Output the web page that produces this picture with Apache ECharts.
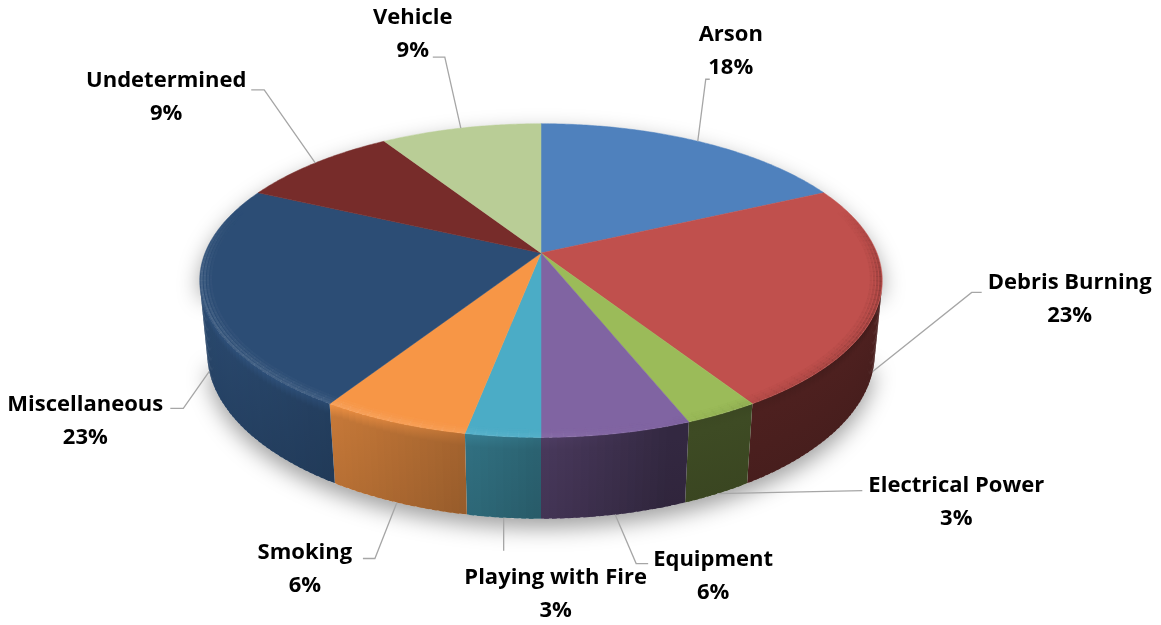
<!DOCTYPE html>
<html>
<head>
<meta charset="utf-8">
<script src="https://cdn.jsdelivr.net/npm/echarts@6/dist/echarts.min.js"></script>
<style>
  html, body { margin: 0; padding: 0; background: #ffffff; }
  #chart { width: 1161px; height: 625px; }
</style>
</head>
<body>
<div id="chart"></div>
<script>
// Causes of wildfires, share of total (%)
const categories = ['Arson', 'Debris Burning', 'Electrical Power', 'Equipment', 'Playing with Fire',
                    'Smoking', 'Miscellaneous', 'Undetermined', 'Vehicle'];
const percents = [18, 23, 3, 6, 3, 6, 23, 9, 9];
const sliceColors = ['#4F81BD', '#C0504D', '#9BBB59', '#8064A2', '#4BACC6',
                     '#F79646', '#2C4D75', '#772C2A', '#B9CD96'];

// Label placement: block centre and leader-line elbow, as offsets from each slice's rim point
const labelLayout = [
  { box: [33, -90],   elbow: [8, -62],   stub: 4 },
  { box: [197, -72],  elbow: [99, -79],  stub: 10 },
  { box: [239, 9],    elbow: [145, -3],  stub: 0 },
  { box: [98, 62],    elbow: [21, 49],   stub: 12 },
  { box: [52, 77],    elbow: [0, 33],    stub: 0 },
  { box: [-92, 67],   elbow: [-22, 56],  stub: -12 },
  { box: [-124, 50],  elbow: [-26, 37],  stub: -13 },
  { box: [-149, -66], elbow: [-51, -73], stub: -13 },
  { box: [-48, -94],  elbow: [-16, -71], stub: -12 }
];

// Perspective camera for the tilted disc (unit radius, thickness in radius units)
const view = { cx: 541, cy: 253, F: 1705, D: 5.075, tilt: 26.9 * Math.PI / 180, depth: 0.243 };
const cosT = Math.cos(view.tilt), sinT = Math.sin(view.tilt);

function project(theta, r, z) {
  const X = r * Math.sin(theta), Y = r * Math.cos(theta), Z = z;
  const d = view.D + Y * cosT - Z * sinT;
  const u = Y * sinT + Z * cosT;
  return [view.cx + view.F * X / d, view.cy - view.F * u / d];
}

// Angular range of the outer wall that faces the camera
const wallHalf = Math.acos(-1 / (view.D * cosT));
const wallFrom = wallHalf, wallTo = 2 * Math.PI - wallHalf;

const total = percents.reduce((a, b) => a + b, 0);
const starts = [];
percents.reduce((acc, v, i) => { starts[i] = acc; return acc + v; }, 0);
const angleOf = v => v / total * 2 * Math.PI;

function rgb(hex) {
  const n = parseInt(hex.slice(1), 16);
  return [(n >> 16) & 255, (n >> 8) & 255, n & 255];
}
function toCss(c) { return 'rgb(' + c.map(v => Math.max(0, Math.min(255, Math.round(v)))).join(',') + ')'; }
function scaleColor(hex, k) { return toCss(rgb(hex).map(v => v * k)); }
function mixColor(hex, t, target) {
  const tg = target || [255, 255, 255];
  return toCss(rgb(hex).map((v, i) => v + (tg[i] - v) * t));
}

// Light from the left-front
const light = (() => { const x = -0.95, y = -0.31, l = Math.hypot(x, y); return [x / l, y / l]; })();
const facing = th => Math.sin(th) * light[0] + Math.cos(th) * light[1];

function arcPoints(a0, a1, r, z, step) {
  const n = Math.max(2, Math.ceil((a1 - a0) / step));
  const pts = [];
  for (let k = 0; k <= n; k++) pts.push(project(a0 + (a1 - a0) * k / n, r, z));
  return pts;
}

const seriesData = percents.map((v, i) => ({ value: v, name: categories[i] }));

// Soft shadow under the disc
function renderShadow(params, api) {
  const back = arcPoints(wallTo, wallFrom + 2 * Math.PI, 1, 0, 0.02);
  const front = arcPoints(wallFrom, wallTo, 1, -view.depth, 0.02).reverse();
  return {
    type: 'polygon',
    shape: { points: back.concat(front) },
    style: { fill: '#ffffff', shadowBlur: 22, shadowOffsetY: 9, shadowColor: 'rgba(0,0,0,0.38)' }
  };
}

// Outer wall of each slice, shaded strip by strip
function renderSide(params, api) {
  const i = params.dataIndex;
  const a0 = angleOf(starts[i]), a1 = a0 + angleOf(api.value(0));
  const lo = Math.max(a0, wallFrom), hi = Math.min(a1, wallTo);
  const children = [];
  if (hi > lo) {
    const n = Math.max(1, Math.ceil((hi - lo) / 0.02));
    for (let k = 0; k < n; k++) {
      const t0 = lo + (hi - lo) * k / n;
      const t1 = Math.min(hi, lo + (hi - lo) * (k + 1) / n + 0.012);
      const tm = (t0 + t1) / 2;
      const fc = facing(tm);
      const f = 0.4 + 0.52 * Math.max(0, fc);
      const topK = fc > 0 ? Math.min(1.08, f * (1 + 0.3 * fc)) : f * (1 + 0.25 * fc);
      const grad = new echarts.graphic.LinearGradient(0, 0, 0, 1, [
        { offset: 0, color: scaleColor(sliceColors[i], topK) },
        { offset: 0.16, color: scaleColor(sliceColors[i], f) },
        { offset: 1, color: scaleColor(sliceColors[i], f * 0.93) }
      ]);
      children.push({
        type: 'polygon',
        shape: { points: [project(t0, 1, 0), project(t1, 1, 0), project(t1, 1, -view.depth), project(t0, 1, -view.depth)] },
        style: { fill: grad }
      });
    }
  }
  return { type: 'group', children };
}

// Top face of each slice with a rounded rim
function renderTop(params, api) {
  const i = params.dataIndex;
  const a0 = angleOf(starts[i]), a1 = a0 + angleOf(api.value(0));
  const pts = [project(0, 0, 0)].concat(arcPoints(a0, a1, 1, 0, 0.01));
  const children = [{
    type: 'polygon',
    shape: { points: pts },
    style: { fill: sliceColors[i], stroke: sliceColors[i], lineWidth: 0.5 }
  }];
  const rings = [[0.995, 1.0], [0.986, 0.7], [0.977, 0.4], [0.968, 0.18]];
  const n = Math.max(1, Math.ceil((a1 - a0) / 0.03));
  for (let k = 0; k < n; k++) {
    const t0 = a0 + (a1 - a0) * k / n, t1 = a0 + (a1 - a0) * (k + 1) / n;
    const tm = (t0 + t1) / 2;
    if (Math.cos(tm) > 0.3) continue;
    const fc = facing(tm);
    const edgeFade = Math.min(1, (0.3 - Math.cos(tm)) / 0.45);
    const col = fc > 0 ? mixColor(sliceColors[i], 0.22) : scaleColor(sliceColors[i], 0.62);
    rings.forEach(([r, a]) => {
      children.push({
        type: 'polyline',
        shape: { points: [project(t0, r, 0), project(t1 + 0.004, r, 0)] },
        style: { stroke: col, lineWidth: 2.2, opacity: Math.abs(fc) * 0.6 * a * edgeFade, lineCap: 'butt' }
      });
    });
  }
  return { type: 'group', children };
}

// Category labels with leader lines
function renderLabel(params, api) {
  const i = params.dataIndex;
  const mid = angleOf(starts[i] + api.value(0) / 2);
  const anchor = project(mid, 1, Math.cos(mid) < 0 ? -view.depth : 0);
  const lay = labelLayout[i];
  const elbow = [anchor[0] + lay.elbow[0], anchor[1] + lay.elbow[1]];
  const end = [elbow[0] + lay.stub, elbow[1]];
  return {
    type: 'group',
    children: [
      {
        type: 'polyline',
        shape: { points: [anchor, elbow, end] },
        style: { stroke: '#A6A6A6', lineWidth: 1.3, fill: null }
      },
      {
        type: 'text',
        style: {
          text: categories[i] + '\n' + api.value(0) + '%',
          x: anchor[0] + lay.box[0], y: anchor[1] + lay.box[1],
          align: 'center', verticalAlign: 'middle',
          fontFamily: 'Open Sans', fontWeight: 'bold', fontSize: 22, lineHeight: 33,
          fill: '#000000'
        }
      }
    ]
  };
}

const chart = echarts.init(document.getElementById('chart'), null, { renderer: 'canvas' });
chart.setOption({
  backgroundColor: '#ffffff',
  animation: false,
  series: [
    { type: 'custom', name: 'shadow', coordinateSystem: 'none', z: 1, silent: true,
      data: [total], renderItem: renderShadow },
    { type: 'custom', name: 'sides', coordinateSystem: 'none', z: 2, silent: true,
      data: seriesData, renderItem: renderSide },
    { type: 'custom', name: 'tops', coordinateSystem: 'none', z: 3, silent: true,
      data: seriesData, renderItem: renderTop },
    { type: 'custom', name: 'labels', coordinateSystem: 'none', z: 4, silent: true,
      data: seriesData, renderItem: renderLabel }
  ]
});
</script>
</body>
</html>
